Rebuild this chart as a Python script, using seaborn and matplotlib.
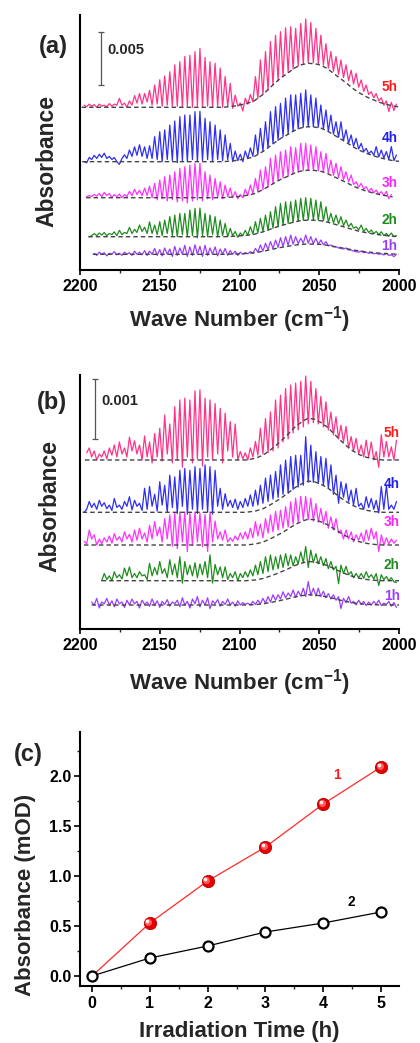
import matplotlib
matplotlib.use("Agg")
import matplotlib.pyplot as plt
import matplotlib.transforms as mtransforms
from matplotlib.ticker import MultipleLocator, FormatStrFormatter
import numpy as np
import pandas as pd
import seaborn as sns

nan = float("nan")

# ---------------- data ----------------
# wave-number positions of the sampled extrema (alternating line tops / valleys)
wn_grid = [2197.4, 2195.8, 2194.2, 2192.7, 2191.1, 2189.5, 2187.9, 2186.4, 2184.8, 2183.2,
           2181.6, 2180.0, 2178.5, 2176.9, 2175.3, 2173.7, 2172.1, 2170.6, 2169.0, 2167.4,
           2165.8, 2164.3, 2162.7, 2161.1, 2159.5, 2157.9, 2156.4, 2154.8, 2153.2, 2151.6,
           2150.0, 2148.5, 2146.9, 2145.3, 2143.7, 2142.1, 2140.6, 2139.0, 2137.4, 2135.8,
           2134.3, 2132.7, 2131.1, 2129.5, 2127.9, 2126.4, 2124.8, 2123.2, 2121.6, 2120.0,
           2118.5, 2116.9, 2115.3, 2113.7, 2112.1, 2110.6, 2109.0, 2107.4, 2105.8, 2104.3,
           2102.7, 2101.1, 2099.5, 2097.9, 2096.4, 2094.8, 2093.2, 2091.6, 2090.0, 2088.5,
           2086.9, 2085.3, 2083.7, 2082.1, 2080.6, 2079.0, 2077.4, 2075.8, 2074.3, 2072.7,
           2071.1, 2069.5, 2067.9, 2066.4, 2064.8, 2063.2, 2061.6, 2060.0, 2058.5, 2056.9,
           2055.3, 2053.7, 2052.1, 2050.6, 2049.0, 2047.4, 2045.8, 2044.3, 2042.7, 2041.1,
           2039.5, 2037.9, 2036.4, 2034.8, 2033.2, 2031.6, 2030.0, 2028.5, 2026.9, 2025.3,
           2023.7, 2022.1, 2020.6, 2019.0, 2017.4, 2015.8, 2014.3, 2012.7, 2011.1, 2009.5,
           2007.9, 2006.4, 2004.8, 2003.2, 2001.6]

hours = ["5h", "4h", "3h", "2h", "1h"]

# panel (a): absorbance x 1000 above each trace's own baseline
a_5h = [0.2, 0.05, 0.3, 0.1, 0.25, 0.0, 0.3, 0.1, 0.2, 0.05,
        0.35, 0.1, 0.3, 0.2, 0.85, 0.2, 0.4, 0.0, 0.6, 0.2,
        1.1, 0.4, 1.3, 0.3, 1.3, 0.5, 1.6, 0.2, 2.1, 0.3,
        2.6, 0.1, 2.95, 0.2, 3.35, 0.1, 4.0, 0.1, 4.3, 0.0,
        4.8, 0.1, 4.9, 0.0, 5.25, 0.1, 5.55, 0.0, 4.7, 0.1,
        4.3, 0.0, 4.15, 0.1, 3.7, 0.0, 2.9, 0.1, 2.25, -0.1,
        1.15, 0.1, 0.4, -0.35, 0.85, 0.3, 1.2, 0.5, 2.9, 0.8,
        4.46, 1.2, 5.25, 1.6, 6.2, 2.1, 6.8, 2.5, 7.14, 2.9,
        7.5, 3.3, 7.6, 3.6, 7.45, 3.9, 7.9, 4.1, 8.33, 4.2,
        8.0, 4.2, 7.45, 4.1, 6.8, 4.0, 6.0, 3.7, 5.25, 3.4,
        4.78, 3.1, 4.46, 2.8, 4.0, 2.5, 3.5, 2.2, 3.2, 1.9,
        2.58, 1.5, 2.1, 1.2, 1.47, 0.9, 1.3, 0.6, 0.9, 0.2,
        0.6, -0.4, 0.47, -0.3, 0.3]
a_4h = [0.0, -0.1, 0.4, 0.2, 0.6, 0.3, 0.7, 0.4, 0.8, 0.3,
        0.5, 0.2, 0.4, 0.0, -0.25, 0.3, 0.65, 0.3, 1.1, 0.5,
        1.4, 0.6, 1.6, 0.5, 1.4, 0.3, 1.5, 0.3, 2.36, 0.2,
        2.83, 0.0, 3.0, 0.2, 3.46, 0.1, 3.84, -0.1, 4.25, 0.1,
        4.4, 0.0, 4.4, 0.2, 4.72, 0.0, 4.75, 0.1, 4.1, 0.2,
        3.77, 0.0, 3.46, 0.2, 3.0, 0.1, 2.52, 0.2, 1.73, 0.0,
        1.0, 0.1, 0.7, 0.0, 1.0, 0.3, 1.3, 0.5, 2.52, 0.7,
        3.15, 1.0, 3.77, 1.3, 4.72, 1.7, 5.19, 2.0, 5.5, 2.35,
        6.0, 2.6, 6.3, 2.85, 6.3, 3.1, 6.45, 3.25, 6.77, 3.3,
        6.3, 3.3, 6.0, 3.25, 5.35, 3.1, 4.88, 2.85, 4.4, 2.6,
        3.77, 2.3, 3.77, 2.0, 3.0, 1.75, 2.52, 1.45, 2.2, 1.2,
        1.73, 0.95, 1.26, 0.75, 1.0, 0.6, 1.42, 0.45, 1.1, 0.35,
        0.95, 0.2, 1.42, 0.1, 0.63]
a_3h = [nan, 0.1, 0.2, 0.1, 0.3, 0.15, 0.4, 0.1, 0.5, 0.2,
        0.4, 0.0, 0.3, 0.1, 0.35, 0.0, 0.3, 0.1, 0.6, 0.2,
        0.8, 0.3, 0.7, 0.2, 0.9, 0.2, 1.1, 0.0, 1.36, -0.2,
        1.67, -0.1, 1.98, -0.3, 2.14, -0.2, 2.45, -0.4, 2.77, -0.3,
        2.92, -0.5, 3.08, -0.3, 3.24, -0.2, 3.24, -0.3, 2.45, -0.1,
        2.14, -0.2, 1.82, 0.0, 1.5, -0.1, 1.2, 0.1, 0.9, 0.0,
        0.57, -0.1, 0.3, 0.0, 0.8, 0.2, 1.2, 0.4, 1.82, 0.55,
        2.61, 0.75, 2.92, 1.0, 3.71, 1.3, 4.02, 1.6, 4.34, 1.85,
        4.5, 2.05, 4.81, 2.25, 4.72, 2.4, 5.13, 2.55, 5.13, 2.6,
        4.97, 2.6, 4.81, 2.55, 4.34, 2.45, 4.18, 2.3, 3.55, 2.1,
        3.24, 1.9, 2.92, 1.7, 2.45, 1.5, 2.14, 1.25, 1.5, 1.0,
        1.35, 0.8, 1.04, 0.6, 0.88, 0.45, 0.72, 0.35, 0.57, 0.2,
        0.6, -0.1, 0.3, nan, nan]
a_2h = [nan, nan, 0.0, 0.1, 0.3, 0.1, 0.35, 0.15, 0.4, 0.1,
        0.3, 0.2, 0.45, 0.1, 0.6, 0.2, 0.4, 0.3, 0.88, 0.3,
        0.7, 0.4, 1.1, 0.5, 0.9, 0.3, 1.4, 0.3, 1.1, 0.2,
        1.42, 0.1, 1.57, 0.3, 1.89, 0.1, 2.04, 0.0, 2.2, 0.2,
        2.2, 0.0, 2.52, 0.1, 2.67, -0.1, 2.7, 0.1, 2.2, 0.0,
        2.04, 0.2, 1.89, 0.0, 1.57, 0.1, 1.26, 0.0, 0.79, 0.1,
        0.5, -0.05, 0.35, 0.1, 0.6, 0.15, 0.94, 0.25, 1.42, 0.35,
        1.73, 0.5, 2.04, 0.6, 2.36, 0.8, 2.83, 0.95, 3.14, 1.1,
        3.3, 1.25, 3.3, 1.35, 3.46, 1.45, 3.62, 1.55, 3.68, 1.6,
        3.62, 1.6, 3.46, 1.55, 3.3, 1.5, 2.83, 1.4, 2.2, 1.3,
        2.04, 1.2, 1.89, 1.05, 1.57, 0.95, 1.26, 0.8, 0.94, 0.65,
        1.1, 0.5, 0.79, 0.4, 0.63, 0.3, 0.5, 0.2, 0.47, 0.1,
        0.31, 0.05, 0.35, 0.0, 0.1]
a_1h = [nan, nan, nan, nan, 0.1, -0.1, 0.2, 0.0, 0.15, -0.15,
        0.1, 0.0, 0.25, -0.05, 0.1, -0.1, 0.2, 0.0, 0.15, -0.1,
        0.3, 0.0, 0.2, -0.05, 0.35, -0.1, 0.3, 0.0, 0.55, -0.1,
        0.45, -0.15, 0.6, 0.0, 0.5, -0.2, 0.75, -0.1, 0.6, 0.0,
        0.85, -0.2, 0.7, -0.1, 0.9, 0.0, 0.75, -0.2, 0.85, -0.1,
        0.6, 0.0, 0.7, -0.15, 0.5, 0.0, 0.55, -0.1, 0.35, 0.0,
        0.3, -0.1, 0.2, 0.0, 0.15, 0.05, 0.25, 0.1, 0.56, 0.2,
        0.88, 0.3, 1.04, 0.45, 1.2, 0.55, 1.35, 0.65, 1.57, 0.75,
        1.67, 0.85, 1.82, 0.95, 1.67, 1.0, 1.51, 1.05, 1.82, 1.05,
        1.67, 1.0, 1.51, 0.95, 1.35, 0.9, 1.2, 0.8, 0.88, 0.7,
        0.72, 0.6, 0.56, 0.5, 0.6, 0.4, 0.41, 0.3, 0.25, 0.2,
        0.3, 0.15, 0.2, 0.1, 0.15, 0.05, 0.1, 0.0, 0.05, -0.06,
        0.1, -0.1, -0.05, -0.22, 0.0]

# panel (b)
b_5h = [nan, 0.12, 0.2, 0.05, 0.15, 0.0, 0.1, 0.05, 0.15, 0.02,
        0.2, 0.08, 0.25, 0.05, 0.3, 0.1, 0.2, 0.05, 0.38, 0.15,
        0.32, 0.1, 0.25, 0.0, 0.4, 0.05, 0.3, -0.05, 0.44, 0.05,
        0.53, -0.02, 0.75, 0.1, 0.6, -0.05, 0.89, 0.0, 1.0, -0.12,
        1.03, 0.05, 1.0, -0.05, 1.15, 0.02, 1.17, -0.1, 1.03, 0.05,
        1.0, 0.0, 0.94, 0.1, 0.86, -0.05, 0.78, 0.15, 0.64, 0.05,
        0.6, 0.0, 0.14, 0.02, 0.12, 0.0, 0.2, 0.05, 0.31, 0.08,
        0.53, 0.1, 0.69, 0.12, 0.8, 0.15, 1.0, 0.2, 1.08, 0.3,
        1.19, 0.35, 1.25, 0.45, 1.28, 0.5, 1.31, 0.55, 1.4, 0.6,
        1.31, 0.62, 1.19, 0.6, 1.06, 0.55, 0.97, 0.5, 0.8, 0.42,
        0.72, 0.35, 0.58, 0.3, 0.56, 0.2, 0.39, 0.15, 0.36, 0.1,
        0.25, 0.05, 0.33, 0.05, 0.3, 0.0, 0.14, -0.12, 0.42, 0.05,
        0.31, 0.05, 0.22, 0.0, 0.33]
b_4h = [0.0, 0.05, 0.18, 0.08, 0.15, 0.05, 0.2, 0.1, 0.16, 0.06,
        0.12, 0.03, 0.23, 0.08, 0.12, 0.05, 0.18, 0.1, 0.26, 0.04,
        0.2, 0.1, 0.15, 0.03, 0.4, 0.05, 0.43, 0.1, 0.3, 0.02,
        0.51, 0.12, 0.45, 0.0, 0.62, 0.08, 0.59, -0.02, 0.7, 0.1,
        0.73, -0.03, 0.7, 0.05, 0.76, -0.02, 0.73, 0.05, 0.79, 0.0,
        0.76, -0.03, 0.7, 0.1, 0.4, 0.05, 0.31, 0.1, 0.2, 0.08,
        0.22, 0.05, 0.18, 0.08, 0.23, 0.1, 0.29, 0.1, 0.37, 0.12,
        0.45, 0.15, 0.57, 0.18, 0.62, 0.22, 0.68, 0.25, 0.79, 0.3,
        0.87, 0.32, 0.93, 0.38, 0.95, 0.42, 0.95, 0.45, 1.26, 0.5,
        1.12, 0.5, 1.01, 0.48, 0.93, 0.45, 0.9, 0.4, 0.79, 0.3,
        0.62, 0.15, 0.51, 0.25, 0.48, 0.18, 0.37, 0.12, 0.4, 0.1,
        0.15, 0.05, 0.26, 0.08, 0.23, 0.05, 0.2, -0.01, 0.43, 0.05,
        0.45, 0.05, 0.12, 0.05, 0.18]
b_3h = [0.06, 0.02, 0.25, 0.1, 0.17, 0.0, 0.1, 0.02, 0.12, 0.05,
        0.15, 0.03, 0.19, 0.08, 0.14, 0.05, 0.22, 0.1, 0.18, 0.05,
        0.25, 0.08, 0.28, 0.1, 0.2, 0.05, 0.33, 0.1, 0.39, 0.15,
        0.3, 0.05, 0.44, 0.1, 0.5, -0.02, 0.53, -0.06, 0.55, 0.05,
        0.55, -0.11, 0.53, 0.0, 0.55, 0.05, 0.53, -0.03, 0.51, -0.11,
        0.55, 0.05, 0.4, 0.1, 0.22, 0.08, 0.25, 0.05, 0.12, 0.06,
        0.15, 0.08, 0.2, 0.1, 0.22, 0.1, 0.28, 0.12, 0.39, 0.15,
        0.35, 0.12, 0.44, 0.2, 0.5, 0.22, 0.56, 0.25, 0.58, 0.28,
        0.64, 0.3, 0.72, 0.35, 0.78, 0.38, 0.81, 0.42, 0.81, 0.42,
        0.78, 0.4, 0.69, 0.38, 0.61, 0.35, 0.56, 0.28, 0.47, 0.25,
        0.44, 0.2, 0.25, 0.1, 0.25, 0.1, 0.22, 0.05, 0.17, 0.08,
        0.2, 0.05, 0.25, 0.08, 0.28, 0.1, 0.22, -0.11, 0.17, 0.0,
        0.12, 0.02, 0.1, 0.03, 0.08]
b_2h = [nan, nan, nan, nan, nan, nan, nan, 0.0, 0.12, 0.02,
        0.08, 0.0, 0.15, 0.05, 0.1, 0.03, 0.21, 0.08, 0.23, 0.05,
        0.12, 0.05, 0.15, 0.08, 0.1, 0.02, 0.29, 0.08, 0.22, 0.1,
        0.32, 0.12, 0.2, 0.05, 0.35, 0.1, 0.28, 0.05, 0.4, -0.04,
        0.32, 0.1, 0.26, 0.08, 0.3, 0.05, 0.28, 0.1, 0.32, 0.05,
        0.43, -0.04, 0.27, 0.1, 0.23, 0.05, 0.23, 0.02, 0.12, 0.05,
        0.15, 0.0, 0.12, 0.05, 0.15, 0.06, 0.18, 0.08, 0.26, 0.1,
        0.32, 0.12, 0.4, 0.15, 0.43, 0.18, 0.4, 0.2, 0.43, 0.22,
        0.45, 0.25, 0.43, 0.25, 0.4, 0.28, 0.48, 0.3, 0.57, 0.22,
        0.51, 0.3, 0.45, 0.28, 0.4, 0.25, 0.37, 0.2, 0.32, 0.18,
        0.24, -0.05, 0.26, 0.12, 0.24, 0.1, 0.15, 0.05, 0.12, 0.05,
        0.12, 0.04, 0.15, 0.05, 0.1, 0.03, 0.12, -0.08, 0.1, 0.02,
        0.07, 0.0, 0.05, -0.02, -0.03]
b_1h = [nan, nan, nan, 0.05, 0.0, 0.11, -0.05, 0.05, 0.02, 0.11,
        0.0, 0.07, -0.03, 0.1, 0.02, 0.05, -0.04, 0.08, 0.0, 0.1,
        0.02, 0.06, -0.05, 0.08, 0.01, 0.05, -0.02, 0.1, 0.0, 0.07,
        -0.04, 0.06, 0.01, 0.09, -0.02, 0.05, 0.02, 0.08, -0.03, 0.12,
        0.0, 0.06, -0.05, 0.1, 0.02, 0.14, -0.03, 0.08, 0.0, 0.12,
        -0.06, 0.07, 0.02, 0.09, -0.02, 0.06, 0.01, 0.1, 0.0, 0.05,
        -0.02, 0.07, 0.0, 0.04, 0.01, 0.03, 0.0, 0.06, 0.01, 0.08,
        0.02, 0.11, 0.03, 0.14, 0.05, 0.17, 0.08, 0.17, 0.1, 0.22,
        0.12, 0.2, 0.14, 0.25, 0.13, 0.23, 0.15, 0.28, 0.14, 0.39,
        0.16, 0.28, 0.15, 0.28, 0.14, 0.23, 0.12, 0.19, 0.1, 0.17,
        0.08, 0.14, -0.06, 0.11, 0.04, 0.14, 0.03, 0.06, 0.0, 0.08,
        0.01, 0.06, -0.01, 0.05, 0.0, 0.06, 0.01, 0.08, -0.01, 0.03,
        0.01, 0.06, -0.02, 0.04, -0.04]

# trace baselines (stacking offsets) and the dashed gas-band baselines
offset_a = [15.35, 10.22, 6.82, 3.14, 1.48]
offset_b = [2.817, 1.945, 1.40, 0.805, 0.40]
hump_amp_a = [4.15, 3.30, 2.60, 1.57, 0.97]
hump_amp_b = [0.695, 0.52, 0.43, 0.32, 0.17]
start_a = [2199.0, 2198.6, 2196.2, 2194.8, 2192.0]
end_a = [2000.0, 2000.0, 2004.0, 2000.0, 2000.0]
start_b = [2196.9, 2198.3, 2197.5, 2186.4, 2192.7]
end_b = [2000.0, 2000.0, 2000.0, 2000.0, 2000.0]

hump_a_wn = [2200, 2110, 2102, 2096, 2091, 2085, 2079, 2074, 2070, 2066, 2062, 2057, 2053,
             2049, 2045, 2041, 2037, 2033, 2029, 2025, 2020, 2016, 2012, 2008, 2004, 2000]
hump_a = [0, 0, 0.035, 0.08, 0.14, 0.30, 0.51, 0.67, 0.77, 0.88, 0.96, 1.0, 0.99,
          0.96, 0.88, 0.77, 0.66, 0.55, 0.43, 0.33, 0.23, 0.17, 0.11, 0.07, 0.03, 0.01]
hump_b_wn = [2200, 2096, 2090, 2085, 2080, 2075, 2070, 2065, 2060, 2057, 2053, 2049,
             2045, 2041, 2037, 2033, 2029, 2025, 2020, 2015, 2010, 2000]
hump_b = [0, 0, 0.04, 0.12, 0.26, 0.42, 0.6, 0.8, 0.94, 1.0, 0.98, 0.9,
          0.79, 0.64, 0.48, 0.34, 0.22, 0.13, 0.06, 0.02, 0.0, 0.0]

scale_a = 0.005
scale_b = 0.001

# panel (c)
time_h = [0, 1, 2, 3, 4, 5]
abs_1 = [0.0, 0.53, 0.95, 1.29, 1.72, 2.09]
abs_2 = [0.0, 0.18, 0.30, 0.44, 0.53, 0.64]

# ---------------- style ----------------
sns.set_theme(style="ticks")
plt.rcParams["font.family"] = ["Liberation Sans", "DejaVu Sans"]
plt.rcParams["font.weight"] = "bold"
plt.rcParams["axes.labelweight"] = "bold"
plt.rcParams["mathtext.fontset"] = "custom"
plt.rcParams["mathtext.rm"] = "Liberation Sans:bold"
plt.rcParams["mathtext.bf"] = "Liberation Sans:bold"
plt.rcParams["mathtext.it"] = "Liberation Sans:bold:italic"
plt.rcParams["mathtext.default"] = "rm"

line_cols = ["#FF3388", "#2E2EF5", "#FF33FF", "#1F8C1F", "#9B3DFF"]
label_cols = ["#FF1A1A", "#1F1FE6", "#FF22FF", "#1F8C1F", "#9B3DFF"]
dash_col = "#444444"

W, H = 420, 1043
fig = plt.figure(figsize=(W / 100, H / 100), dpi=100)
ax_a = fig.add_axes([80 / W, (H - 270) / H, 319 / W, 255 / H])
ax_b = fig.add_axes([80 / W, (H - 629) / H, 319 / W, 254 / H])
ax_c = fig.add_axes([80 / W, (H - 986) / H, 319 / W, 254 / H])


def draw_spectra(ax, traces, offsets, amps, starts, ends, hwn, hshape):
    for k, rel in enumerate(traces):
        n = min(len(rel), len(wn_grid))
        y = [offsets[k] + v for v in rel[:n]]
        df = pd.DataFrame({"wn": wn_grid[:n], "A": y}).dropna()
        sns.lineplot(data=df, x="wn", y="A", ax=ax, color=line_cols[k], lw=0.9,
                     sort=False, estimator=None, zorder=2)
        xs = [starts[k]] + [w for w, s in zip(hwn, hshape) if ends[k] <= w < starts[k]]
        ss = [0.0] + [s for w, s in zip(hwn, hshape) if ends[k] <= w < starts[k]]
        dd = pd.DataFrame({"wn": xs, "A": [offsets[k] + amps[k] * s for s in ss]})
        sns.lineplot(data=dd, x="wn", y="A", ax=ax, color=dash_col, lw=1.0,
                     linestyle=(0, (3.2, 2.2)), sort=False, estimator=None, zorder=3)


draw_spectra(ax_a, [a_5h, a_4h, a_3h, a_2h, a_1h], offset_a, hump_amp_a,
             start_a, end_a, hump_a_wn, hump_a)
draw_spectra(ax_b, [b_5h, b_4h, b_3h, b_2h, b_1h], offset_b, hump_amp_b,
             start_b, end_b, hump_b_wn, hump_b)

for ax, top in ((ax_a, 255 / 10.6), (ax_b, 254 / 60.0)):
    ax.set_xlim(2200, 2000)
    ax.set_ylim(0, top)
    ax.set_yticks([])
    ax.xaxis.set_major_locator(MultipleLocator(50))
    ax.xaxis.set_minor_locator(MultipleLocator(25))
    ax.tick_params(axis="x", which="major", direction="out", length=3.6, width=1.2,
                   labelsize=11.5, pad=3, colors="black")
    ax.tick_params(axis="x", which="minor", direction="out", length=2.3, width=1.0)
    ax.set_xlabel("Wave Number (cm$^{-1}$)", fontsize=16, fontweight="bold")
    ax.set_ylabel("Absorbance", fontsize=16.5, fontweight="bold")
    ax.xaxis.label.set_verticalalignment("center")
    ax.yaxis.label.set_verticalalignment("center")
    for sp in ("top", "right"):
        ax.spines[sp].set_visible(False)
    for sp in ("left", "bottom"):
        ax.spines[sp].set_linewidth(1.5)
        ax.spines[sp].set_color("black")

ax_a.xaxis.set_label_coords(0.5, -0.196)
ax_b.xaxis.set_label_coords(0.5, -0.209)
ax_a.yaxis.set_label_coords(-0.103, 0.4255)
ax_b.yaxis.set_label_coords(-0.094, 0.484)

# scale bars
sb_a = scale_a * 1000
ax_a.errorbar([2187.0], [17.5 + sb_a / 2], yerr=[sb_a / 2], color="#555555",
              elinewidth=0.9, capsize=2.2, capthick=0.9, zorder=4)
ax_a.text(2183.1, 20.75, "0.005", fontsize=10.5, fontweight="bold",
          ha="left", va="center")
sb_b = scale_b * 1000
ax_b.errorbar([2190.6], [3.167 + sb_b / 2], yerr=[sb_b / 2], color="#555555",
              elinewidth=0.9, capsize=2.2, capthick=0.9, zorder=4)
ax_b.text(2186.4, 3.80, "0.001", fontsize=10.5, fontweight="bold",
          ha="left", va="center")

# trace labels
lab_y_a = [17.3, 12.5, 8.25, 4.72, 2.26]
lab_y_b = [3.26, 2.41, 1.775, 1.067, 0.55]
for k, h in enumerate(hours):
    ax_a.text(2001.0, lab_y_a[k], h, color=label_cols[k], fontsize=9.8,
              fontweight="bold", ha="right", va="center", zorder=5)
    ax_b.text(1999.6, lab_y_b[k], h, color=label_cols[k], fontsize=9.8,
              fontweight="bold", ha="right", va="center", zorder=5)

# ---------------- panel (c) ----------------
sns.lineplot(x=time_h, y=abs_1, ax=ax_c, color="#FF2A2A", lw=0.9, zorder=2)
sns.lineplot(x=time_h, y=abs_2, ax=ax_c, color="black", lw=0.9, zorder=2)
ax_c.scatter(time_h[1:], abs_1[1:], s=78, color="#E60000", edgecolors="#B00000",
             linewidths=0.6, zorder=3)
glow = mtransforms.offset_copy(ax_c.transData, fig=fig, x=-1.0, y=1.0, units="points")
ax_c.scatter(time_h[1:], abs_1[1:], s=26, color="#FF5A5A", linewidths=0,
             transform=glow, zorder=4)
hl = mtransforms.offset_copy(ax_c.transData, fig=fig, x=-1.7, y=1.7, units="points")
ax_c.scatter(time_h[1:], abs_1[1:], s=7, color="white", alpha=0.9, linewidths=0,
             transform=hl, zorder=5)
ax_c.scatter(time_h, abs_2, s=52, facecolors="white", edgecolors="black",
             linewidths=1.6, zorder=6)

ax_c.set_xlim(-0.208, 5.31)
ax_c.set_ylim(-0.10, 2.44)
ax_c.xaxis.set_major_locator(MultipleLocator(1))
ax_c.xaxis.set_minor_locator(MultipleLocator(0.5))
ax_c.yaxis.set_major_locator(MultipleLocator(0.5))
ax_c.yaxis.set_minor_locator(MultipleLocator(0.25))
ax_c.yaxis.set_major_formatter(FormatStrFormatter("%.1f"))
ax_c.tick_params(axis="both", which="major", direction="out", length=4.0, width=1.2,
                 labelsize=11.5, colors="black")
ax_c.tick_params(axis="y", which="major", pad=2.2)
ax_c.tick_params(axis="both", which="minor", direction="out", length=2.4, width=1.0)
for sp in ("top", "right"):
    ax_c.spines[sp].set_visible(False)
for sp in ("left", "bottom"):
    ax_c.spines[sp].set_linewidth(1.5)
    ax_c.spines[sp].set_color("black")
ax_c.set_xlabel("Irradiation Time (h)", fontsize=16, fontweight="bold")
ax_c.set_ylabel("Absorbance (mOD)", fontsize=16, fontweight="bold")
ax_c.xaxis.label.set_verticalalignment("center")
ax_c.yaxis.label.set_verticalalignment("center")
ax_c.xaxis.set_label_coords(0.5, -0.181)
ax_c.yaxis.set_label_coords(-0.172, 0.358)
ax_c.text(4.24, 2.01, "1", color="#FF1A1A", fontsize=9.8, fontweight="bold",
          ha="center", va="center")
ax_c.text(4.48, 0.74, "2", color="black", fontsize=9.8, fontweight="bold",
          ha="center", va="center")

# panel letters
fig.text(53 / W, 1 - 47 / H, "(a)", fontsize=17, fontweight="bold", ha="center", va="center")
fig.text(52 / W, 1 - 402 / H, "(b)", fontsize=17, fontweight="bold", ha="center", va="center")
fig.text(28 / W, 1 - 755 / H, "(c)", fontsize=17, fontweight="bold", ha="center", va="center")

fig.savefig("out.png", dpi=100)
